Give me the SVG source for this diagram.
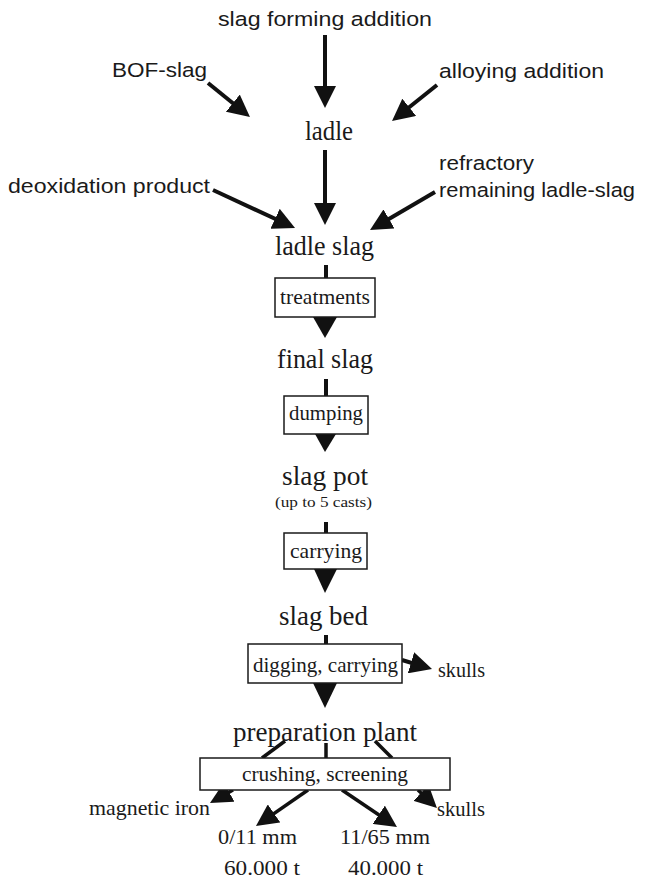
<svg xmlns="http://www.w3.org/2000/svg" width="646" height="881" viewBox="0 0 646 881">
<style>
.sans{font-family:"Liberation Sans",Arial,sans-serif;font-size:20.5px;fill:#1a1a1a}
.serif{font-family:"Liberation Serif","Times New Roman",serif;fill:#1a1a1a}
.big{font-size:27px}
.mid{font-size:22px}
.small{font-size:15px}
.box{fill:#fff;stroke:#1a1a1a;stroke-width:1.5}
.line{stroke:#111;stroke-width:4;fill:none}
.arr{stroke:#111;stroke-width:4;fill:none;marker-end:url(#ah)}
.thin{stroke-width:3.5}
.head{fill:#111}
</style>
<defs>
<marker id="ah" markerUnits="userSpaceOnUse" markerWidth="22" markerHeight="22" viewBox="0 0 22 22" refX="16" refY="11" orient="auto">
<path d="M0,0 L22,11 L0,22 z" fill="#111"/>
</marker>
</defs>
<g id="connectors">
<line class="arr" x1="325" y1="35" x2="325" y2="102"/>
<line class="arr" x1="208" y1="83" x2="245.3" y2="113.2"/>
<line class="arr" x1="437" y1="85" x2="396.7" y2="117.3"/>
<line class="arr" x1="325" y1="150" x2="325" y2="219"/>
<line class="arr" x1="213" y1="190" x2="289.6" y2="225.5"/>
<line class="arr" x1="435" y1="192" x2="375.2" y2="227"/>
<line class="line" x1="326" y1="265" x2="326" y2="278"/>
<polygon class="head" points="313,317 337,317 325,338"/>
<line class="line" x1="326" y1="379" x2="326" y2="396"/>
<polygon class="head" points="315,434 336,434 325,452"/>
<line class="line" x1="326" y1="522" x2="326" y2="533"/>
<polygon class="head" points="314,569 337,569 325,593"/>
<line class="line" x1="326" y1="635" x2="326" y2="644"/>
<polygon class="head" points="313,683 337,683 325,708"/>
<line class="arr" x1="402" y1="660" x2="426.3" y2="667.3"/>
<line class="line thin" x1="285" y1="741" x2="262" y2="758"/>
<line class="line thin" x1="326" y1="743" x2="326" y2="758"/>
<line class="line thin" x1="375" y1="741" x2="392" y2="758"/>
<line class="arr thin" x1="233" y1="790" x2="215.2" y2="800"/>
<line class="arr thin" x1="308" y1="790" x2="260.9" y2="822.6"/>
<line class="arr thin" x1="342" y1="790" x2="392" y2="823.7"/>
<line class="arr thin" x1="418" y1="790" x2="432.6" y2="803.9"/>
</g>
<g id="slag-forming-addition"><text class="sans" x="218" y="26" textLength="214" lengthAdjust="spacingAndGlyphs">slag forming addition</text></g>
<g id="bof-slag"><text class="sans" x="112" y="77" textLength="95" lengthAdjust="spacingAndGlyphs">BOF-slag</text></g>
<g id="alloying-addition"><text class="sans" x="439" y="78" textLength="165" lengthAdjust="spacingAndGlyphs">alloying addition</text></g>
<g id="ladle"><text class="serif big" x="305" y="140" textLength="48" lengthAdjust="spacingAndGlyphs">ladle</text></g>
<g id="deoxidation-product"><text class="sans" x="8" y="193" textLength="202" lengthAdjust="spacingAndGlyphs">deoxidation product</text></g>
<g id="refractory"><text class="sans" x="439" y="170" textLength="95" lengthAdjust="spacingAndGlyphs">refractory</text><text class="sans" x="439" y="197" textLength="196" lengthAdjust="spacingAndGlyphs">remaining ladle-slag</text></g>
<g id="ladle-slag"><text class="serif big" x="275" y="255" textLength="99" lengthAdjust="spacingAndGlyphs">ladle slag</text></g>
<g id="treatments"><rect class="box" x="275" y="278" width="100" height="39"/><text class="serif mid" x="280" y="304" textLength="90" lengthAdjust="spacingAndGlyphs">treatments</text></g>
<g id="final-slag"><text class="serif big" x="277" y="368" textLength="96" lengthAdjust="spacingAndGlyphs">final slag</text></g>
<g id="dumping"><rect class="box" x="284" y="396" width="84" height="38"/><text class="serif mid" x="289" y="420" textLength="74" lengthAdjust="spacingAndGlyphs">dumping</text></g>
<g id="slag-pot"><text class="serif big" x="282" y="485" textLength="86" lengthAdjust="spacingAndGlyphs">slag pot</text><text class="serif small" x="275" y="507" textLength="97" lengthAdjust="spacingAndGlyphs">(up to 5 casts)</text></g>
<g id="carrying"><rect class="box" x="284" y="533" width="83" height="36"/><text class="serif mid" x="290" y="558" textLength="72" lengthAdjust="spacingAndGlyphs">carrying</text></g>
<g id="slag-bed"><text class="serif big" x="279" y="625" textLength="89" lengthAdjust="spacingAndGlyphs">slag bed</text></g>
<g id="digging-carrying"><rect class="box" x="248" y="644" width="154" height="39"/><text class="serif mid" x="253" y="672" textLength="145" lengthAdjust="spacingAndGlyphs">digging, carrying</text></g>
<g id="skulls-1"><text class="serif mid" x="438" y="677" textLength="47" lengthAdjust="spacingAndGlyphs">skulls</text></g>
<g id="preparation-plant"><text class="serif big" x="233" y="741" textLength="184" lengthAdjust="spacingAndGlyphs">preparation plant</text></g>
<g id="crushing-screening"><rect class="box" x="200" y="758" width="250" height="32"/><text class="serif mid" x="242" y="781" textLength="166" lengthAdjust="spacingAndGlyphs">crushing, screening</text></g>
<g id="magnetic-iron"><text class="serif mid" x="89" y="815" textLength="121" lengthAdjust="spacingAndGlyphs">magnetic iron</text></g>
<g id="skulls-2"><text class="serif mid" x="437" y="816" textLength="48" lengthAdjust="spacingAndGlyphs">skulls</text></g>
<g id="fraction-0-11"><text class="serif mid" x="218" y="844" textLength="79" lengthAdjust="spacingAndGlyphs">0/11 mm</text><text class="serif mid" x="224" y="875" textLength="76" lengthAdjust="spacingAndGlyphs">60.000 t</text></g>
<g id="fraction-11-65"><text class="serif mid" x="340" y="844" textLength="90" lengthAdjust="spacingAndGlyphs">11/65 mm</text><text class="serif mid" x="348" y="875" textLength="75" lengthAdjust="spacingAndGlyphs">40.000 t</text></g>
</svg>
